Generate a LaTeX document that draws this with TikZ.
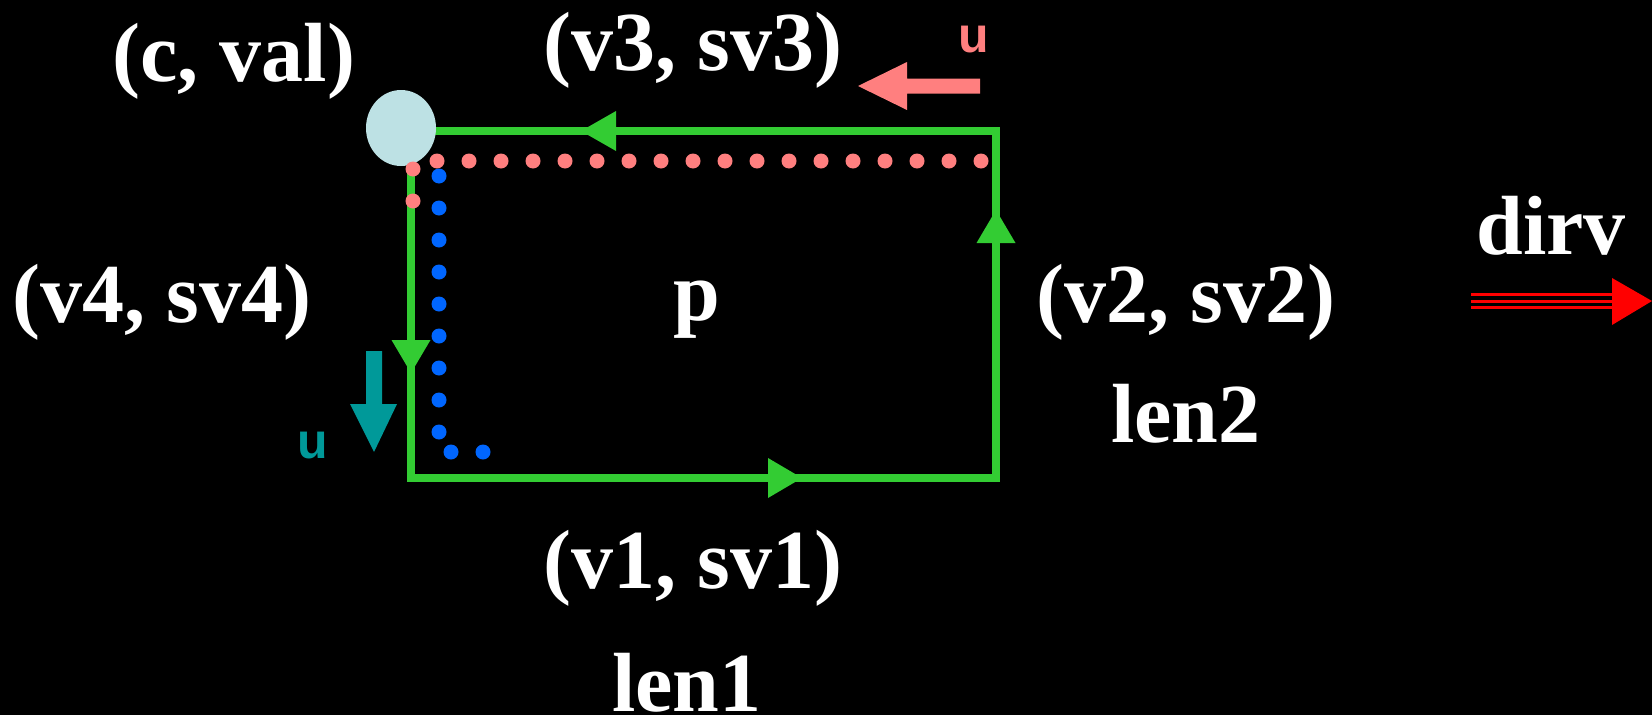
\documentclass[tikz,border=0pt]{standalone}
\usepackage{fontspec}
\setmainfont{Liberation Serif}
\newfontfamily\sansu{Liberation Sans}
\usetikzlibrary{shapes.geometric}
\definecolor{grn}{HTML}{33CC33}
\definecolor{pnk}{HTML}{FF7F7F}
\definecolor{blu}{HTML}{0066FF}
\definecolor{circ}{HTML}{BDE1E4}
\definecolor{teal2}{HTML}{009999}
\begin{document}
\begin{tikzpicture}[x=1pt,y=-1pt,
  lbl/.style={text=white,font=\fontsize{84}{88}\selectfont\bfseries,anchor=base,inner sep=0pt},
  ulbl/.style={font=\sansu\fontsize{50}{54}\selectfont\bfseries,anchor=base,inner sep=0pt},
  edgeline/.style={draw=grn,line width=8pt},
  dotline/.style={line width=15pt,line cap=round,dash pattern=on 0pt off 32pt}]
\fill[black] (0,0) rectangle (1652,715);
\useasboundingbox (0,0) rectangle (1652,715);

% rectangle corners
\coordinate (A) at (411,131);
\coordinate (B) at (996,131);
\coordinate (C) at (996,478);
\coordinate (D) at (411,478);
\draw[edgeline] (A) -- (B) -- (C) -- (D) -- cycle;

% green arrowheads
\fill[grn] (802,478) -- (768,458) -- (768,498) -- cycle;
\fill[grn] (996,210) -- (976.5,243) -- (1015.5,243) -- cycle;
\fill[grn] (581,131) -- (616,111) -- (616,151) -- cycle;
\fill[grn] (411,373) -- (391.5,340) -- (430.5,340) -- cycle;

% corner point
\node (cv) [ellipse,fill=circ,minimum width=70pt,minimum height=76pt,inner sep=0pt] at (401,128) {};

% dotted paths
\coordinate (p1) at (981,161);
\coordinate (p2) at (413,161);
\coordinate (p3) at (413,204);
\draw[pnk,dotline] (p1) -- (p2) -- (p3);
\coordinate (b1) at (439,176);
\coordinate (b2) at (439,452);
\coordinate (b3) at (486,452);
\draw[blu,dotline] (b1) -- (b2) -- (b3);

% u arrows
\fill[teal2] (366,351) -- (382,351) -- (382,404) -- (397,404) -- (374,452) -- (350,404) -- (366,404) -- cycle;
\node[ulbl,text=teal2] (ut) at (313,458) {u};
\fill[pnk] (980,78.5) -- (907,78.5) -- (907,62) -- (858,86) -- (907,110) -- (907,93.5) -- (980,93.5) -- cycle;
\node[ulbl,text=pnk] (up) at (974,52) {u};

% dirv arrow
\draw[red,line width=3pt] (1471,294) -- (1613,294);
\draw[red,line width=3pt] (1471,301) -- (1613,301);
\draw[red,line width=3pt] (1471,307.5) -- (1613,307.5);
\fill[red] (1612,278) -- (1652,301) -- (1612,325) -- cycle;

% labels
\node[lbl] (cval) at (234,81) {(c, val)};
\node[lbl] (v3) at (693,70) {(v3, sv3)};
\node[lbl] (v4) at (162,322) {(v4, sv4)};
\node[lbl] (pp) at (697,320) {p};
\node[lbl] (v2) at (1186,322) {(v2, sv2)};
\node[lbl] (len2) at (1186,442) {len2};
\node[lbl] (v1) at (693,588) {(v1, sv1)};
\node[lbl] (len1) at (687,711) {len1};
\node[lbl] (dirv) at (1551,254) {dirv};
\end{tikzpicture}
\end{document}
